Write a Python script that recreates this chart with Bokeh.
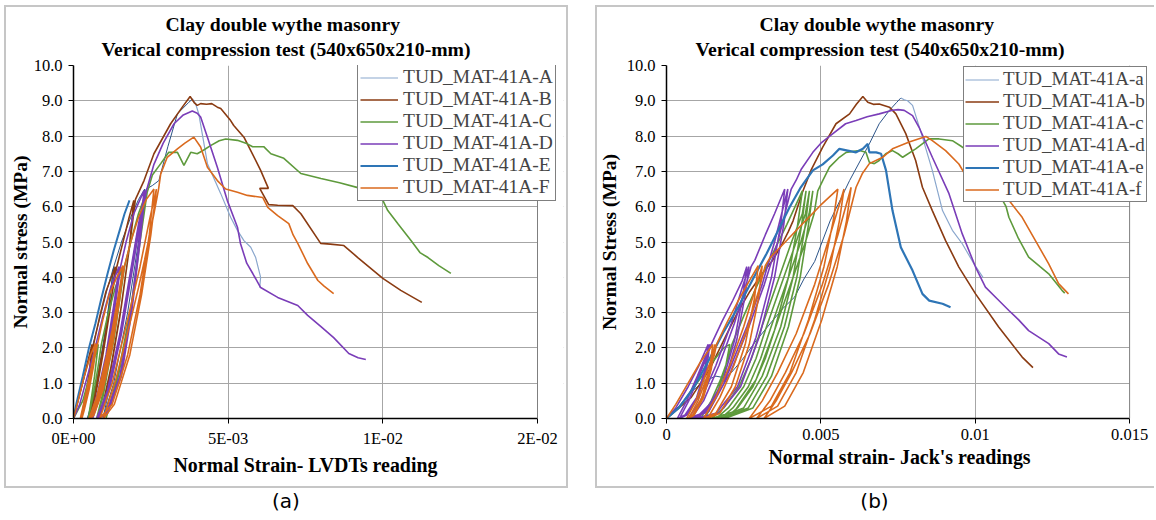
from bokeh.plotting import figure
from bokeh.models import (Range1d, FixedTicker, Legend, LegendItem, Title, BoxAnnotation,
                          NumeralTickFormatter, Span, Div)
from bokeh.layouts import row, column
from bokeh.embed import file_html
from bokeh.resources import INLINE

# ---------------- data (strain in 1e-3, stress in MPa) ----------------
# Panel (a): LVDT readings
a_A_x = [0, 0.3, 0.6, 0.9, 1.1, 1.3, 1.15, 0.9, 0.6, 0.45, 0.75, 1.05, 1.3, 1.55, 1.85, 2.1, 2.3, 2.1, 1.75,
         1.3, 0.95, 1.35, 1.75, 2.05, 2.35, 2.55, 2.76, 3.05, 3.36, 3.73, 3.85]
a_A_y = [0, 1.0, 2.0, 3.0, 3.7, 4.3, 3.2, 1.7, 0.4, 0, 1.0, 2.6, 4.3, 5.0, 5.7, 6.2, 6.5, 5.0, 3.0,
         1.0, 0, 1.6, 3.6, 5.2, 6.5, 6.6, 6.74, 7.7, 8.63, 8.96, 9.05]
a_A_post_x = [3.85, 3.95, 4.05, 4.33, 4.76, 5.08, 5.3, 5.51, 5.73, 5.89, 6.05, 6.02]
a_A_post_y = [9.05, 8.91, 8.63, 7.22, 6.37, 5.7, 5.33, 5.04, 4.85, 4.56, 4.0, 3.71]

a_B_x = [0, 0.2, 0.4, 0.6, 0.5, 0.35, 0.25, 0.4, 0.55, 0.65, 0.85, 1.05, 1.35, 1.2, 0.95, 0.7, 0.5, 0.75,
         1.0, 1.2, 1.4, 1.6, 1.8, 1.95, 1.8, 1.5, 1.15, 0.85, 1.2, 1.55, 1.8, 2.0, 2.28, 2.6, 3.14, 3.5,
         3.77, 3.9, 4.0, 4.11, 4.3, 4.47, 4.65, 4.76, 5.08, 5.18, 5.51, 5.73, 6.05, 6.3, 6.02, 6.31, 6.6,
         7.09, 7.35, 7.99, 8.3, 8.74, 9.19, 10.0, 10.58, 11.26]
a_B_y = [0, 0.7, 1.4, 2.1, 1.2, 0.4, 0, 0.7, 1.5, 2.1, 2.9, 3.6, 4.3, 3.2, 1.8, 0.6, 0, 1.0,
         2.2, 3.3, 4.3, 5.0, 5.7, 6.18, 4.8, 2.9, 1.1, 0, 1.4, 3.2, 4.8, 6.2, 6.74, 7.5, 8.35, 8.8,
         9.12, 8.95, 8.87, 8.92, 8.9, 8.92, 8.82, 8.78, 8.44, 8.3, 7.97, 7.59, 7.03, 6.52, 6.52, 6.06, 6.04,
         6.03, 5.8, 4.96, 4.94, 4.9, 4.56, 3.97, 3.63, 3.29]

a_C_x = [0, 0.3, 0.55, 0.8, 0.68, 0.55, 0.48, 0.65, 0.8, 0.9, 1.1, 1.35, 1.6, 1.45, 1.2, 0.95, 0.75, 1.0,
         1.3, 1.5, 1.65, 1.85, 2.1, 2.35, 2.15, 1.85, 1.45, 1.05, 1.45, 1.85, 2.15, 2.38, 2.55, 2.82, 3.08,
         3.36, 3.57, 3.79, 4.0, 4.2, 4.43, 4.71, 4.92, 5.3, 5.62, 5.79, 6.15, 6.38, 6.8, 7.35, 8.0, 8.6,
         9.19, 9.7, 10.0, 10.16, 10.5, 10.91, 11.2, 11.46, 11.81, 12.2]
a_C_y = [0, 0.5, 1.3, 2.1, 1.2, 0.4, 0, 0.7, 1.5, 2.1, 2.9, 3.7, 4.3, 3.2, 1.8, 0.6, 0, 0.9,
         2.2, 3.4, 4.3, 5.0, 5.8, 6.4, 5.0, 3.0, 1.2, 0, 1.3, 3.1, 5.0, 6.4, 6.9, 7.22, 7.54,
         7.54, 7.17, 7.54, 7.5, 7.6, 7.73, 7.87, 7.92, 7.88, 7.78, 7.7, 7.7, 7.5, 7.37, 6.94, 6.8, 6.68,
         6.54, 6.35, 6.18, 5.89, 5.5, 5.04, 4.7, 4.56, 4.33, 4.11]

a_D_x = [0, 0.2, 0.45, 0.7, 0.95, 1.2, 1.47, 1.35, 1.1, 0.8, 0.55, 0.8, 1.05, 1.3, 1.48, 1.36, 1.12, 0.85,
         0.62, 0.87, 1.12, 1.35, 1.52, 1.7, 1.95, 2.28, 2.12, 1.85, 1.5, 1.05, 0.75, 1.1, 1.5, 1.85, 2.1,
         2.32, 2.15, 1.88, 1.55, 1.1, 0.8, 1.15, 1.55, 1.9, 2.15, 2.36, 2.6, 2.9, 3.25, 3.55, 3.84, 4.0,
         4.11, 4.33, 4.65, 4.97, 5.3, 5.4, 5.6, 5.8, 6.05, 6.6, 7.25, 7.57, 8.0, 8.41, 8.9, 9.2, 9.45]
a_D_y = [0, 0.4, 1.2, 2.0, 2.9, 3.7, 4.3, 3.3, 1.8, 0.6, 0, 0.8, 1.8, 3.2, 4.3, 3.3, 1.8, 0.6,
         0, 0.8, 1.8, 3.2, 4.3, 5.0, 5.8, 6.46, 5.0, 3.0, 1.2, 0.15, 0, 0.8, 2.4, 4.2, 5.5,
         6.46, 5.0, 3.0, 1.2, 0.15, 0, 0.8, 2.4, 4.2, 5.5, 6.46, 7.2, 7.8, 8.35, 8.6, 8.71, 8.65,
         8.54, 7.97, 7.12, 6.18, 5.42, 4.95, 4.4, 4.1, 3.71, 3.43, 3.2, 2.92, 2.6, 2.29, 1.84, 1.72, 1.67]

a_E_x = [0, 0.1, 0.3, 0.5, 0.71, 0.9, 1.1, 1.3, 1.5, 1.65, 1.81]
a_E_y = [0, 0.45, 1.2, 2.0, 2.7, 3.4, 4.1, 4.76, 5.35, 5.8, 6.18]

a_F_x = [0, 0.15, 0.35, 0.55, 0.71, 0.62, 0.48, 0.32, 0.22, 0.35, 0.52, 0.66, 0.74, 0.65, 0.5, 0.35, 0.27,
         0.4, 0.56, 0.7, 0.78, 0.95, 1.15, 1.4, 1.6, 1.45, 1.2, 0.9, 0.6, 0.5, 0.75, 1.0, 1.25, 1.45, 1.62,
         1.48, 1.25, 0.95, 0.66, 0.56, 0.8, 1.05, 1.3, 1.5, 1.65, 1.85, 2.1, 2.35, 2.6, 2.45, 2.15, 1.75,
         1.25, 0.85, 1.25, 1.75, 2.15, 2.45, 2.68, 2.5, 2.2, 1.82, 1.32, 0.97, 1.15, 1.36, 1.6, 1.9, 2.1,
         2.3, 2.6, 2.75, 2.82, 3.03, 3.36, 3.6, 3.89, 4.11, 4.33, 4.65, 4.92, 5.3, 5.62, 6.12, 6.28, 6.6,
         6.96, 7.1, 7.25, 7.57, 7.9, 8.1, 8.41]
a_F_y = [0, 0.5, 1.2, 1.8, 2.12, 1.5, 0.8, 0.25, 0, 0.5, 1.2, 1.8, 2.12, 1.5, 0.8, 0.25, 0,
         0.5, 1.2, 1.8, 2.12, 2.8, 3.5, 4.0, 4.33, 3.3, 2.0, 0.8, 0.1, 0, 0.6, 1.5, 2.5, 3.5, 4.33,
         3.3, 2.0, 0.8, 0.1, 0, 0.6, 1.5, 2.5, 3.5, 4.33, 5.0, 5.7, 6.2, 6.5, 5.2, 3.5, 1.8,
         0.4, 0, 1.0, 2.8, 4.3, 5.6, 6.5, 5.2, 3.5, 1.8, 0.4, 0, 0.5, 1.08, 1.9, 2.97, 3.7,
         4.5, 5.8, 6.5, 6.93, 7.4, 7.64, 7.8, 7.97, 7.69, 7.12, 6.74, 6.5, 6.41, 6.32, 6.26, 5.98, 5.75,
         5.52, 5.2, 4.96, 4.39, 3.91, 3.75, 3.54]

# Panel (b): jack readings
b_a_x = [0, 0.4, 0.8, 1.2, 1.6, 1.9, 2.1, 2.43, 2.9, 3.35, 3.75, 4.15, 4.45, 4.8, 5.3, 5.93, 6.57, 6.89,
         7.22, 7.45, 7.59]
b_a_y = [0, 0.35, 0.75, 1.05, 1.2, 1.15, 1.3, 1.64, 2.2, 2.68, 3.1, 3.44, 3.95, 4.45, 5.6, 6.74, 7.78, 8.35,
         8.73, 8.95, 9.08]
b_a_post_x = [7.59, 7.7, 7.81, 7.97, 8.29, 8.61, 8.94, 9.26, 9.58, 9.96, 10.1, 10.25]
b_a_post_y = [9.08, 9.03, 9.0, 8.87, 7.97, 7.03, 5.89, 5.33, 4.95, 4.38, 4.2, 4.0]

b_b_x = [0, 0.8, 1.4, 1.9, 2.3, 2.7, 3.1, 3.45, 3.75, 3.95, 4.1, 4.4,
         4.69, 5.06, 5.49, 5.93, 6.15, 6.36, 6.52, 6.7, 6.89, 7.22, 7.43, 7.75, 8.07, 8.29, 8.61, 9.04,
         9.47, 10.01, 10.76, 11.52, 11.87]
b_b_y = [0, 0.6, 1.4, 2.3, 3.0, 3.6, 4.1, 4.5, 4.95, 5.3, 5.6, 6.4,
         7.05, 7.69, 8.35, 8.63, 8.9, 9.12, 8.96, 8.9, 8.91, 8.82, 8.63, 8.07, 7.31, 6.55, 5.89, 5.04,
         4.29, 3.53, 2.59, 1.74, 1.44]

b_c_x = [0, 0.4, 0.9, 1.4, 1.85, 2.05, 1.9, 1.6, 1.3, 1.1, 1.45, 1.75, 2.0, 2.12, 2.5, 2.95, 3.4, 3.9, 4.4,
         4.25, 3.95, 3.5, 2.9, 2.2, 1.45, 1.85, 2.35, 2.75, 3.05, 3.25, 3.65, 4.05, 4.4, 4.52,
         4.38, 4.1, 3.7, 3.1, 2.5, 1.6, 2.0, 2.5, 2.9, 3.2, 3.4, 3.8, 4.2, 4.5, 4.63,
         4.5, 4.22, 3.82, 3.25, 2.65, 1.75, 2.15, 2.65, 3.05, 3.35, 3.55, 3.95, 4.35, 4.62, 4.74,
         4.6, 4.33, 3.95, 3.4, 2.8, 1.89, 2.3, 2.8, 3.2, 3.5, 3.7, 4.1, 4.5, 4.78, 4.9,
         5.06, 5.28, 5.6, 5.82, 6.25, 6.46, 6.57, 6.73, 6.89, 7.1, 7.32, 7.5, 7.65, 8.07, 8.5, 8.83, 9.26,
         9.58, 9.9, 10.2, 10.42, 10.65, 11.0, 11.09, 11.4, 11.73, 12.1, 12.38, 12.81, 12.9]
b_c_y = [0, 0.3, 0.9, 1.5, 2.0, 2.1, 1.4, 0.6, 0.1, 0, 0.5, 1.1, 1.7, 2.1, 2.9, 3.8, 4.6, 5.5, 6.45,
         5.5, 4.0, 2.5, 1.1, 0.2, 0, 0.3, 0.9, 1.7, 2.5, 3.0, 4.0, 5.0, 5.8, 6.45,
         5.5, 4.0, 2.6, 1.2, 0.3, 0, 0.3, 0.9, 1.7, 2.5, 3.0, 4.0, 5.0, 5.8, 6.45,
         5.5, 4.0, 2.6, 1.2, 0.3, 0, 0.3, 0.9, 1.7, 2.5, 3.0, 4.0, 5.0, 5.8, 6.45,
         5.5, 4.0, 2.6, 1.2, 0.3, 0, 0.3, 0.9, 1.7, 2.5, 3.0, 4.0, 5.0, 5.8, 6.45,
         6.74, 7.12, 7.4, 7.54, 7.59, 7.54, 7.26, 7.22, 7.31, 7.5, 7.59, 7.5, 7.4, 7.64, 7.92, 7.92, 7.87,
         7.69, 7.5, 7.2, 7.03, 6.55, 6.0, 5.7, 5.1, 4.57, 4.3, 4.1, 3.63, 3.55]

b_d_x = [0, 0.3, 0.7, 1.05, 1.35, 1.25, 0.98, 0.6, 0.35, 0.65, 1.0, 1.28, 1.4, 1.3, 1.03, 0.66, 0.42, 0.72,
         1.05, 1.33, 1.45, 1.8, 2.15, 2.45, 2.6, 2.48, 2.2, 1.8, 1.3, 0.7, 1.1, 1.6, 2.1, 2.45, 2.67,
         2.55, 2.27, 1.87, 1.37, 0.8, 1.2, 1.7, 2.2, 2.55, 2.74, 2.86, 3.2, 3.5, 3.83, 3.7, 3.4, 2.9,
         2.3, 1.6, 0.93, 1.4, 2.0, 2.6, 3.1, 3.5, 3.93, 3.8, 3.5, 3.0, 2.4, 1.7, 1.0, 1.47, 2.07, 2.67,
         3.17, 3.6, 4.04, 4.2, 4.37, 4.74, 5.0, 5.39, 5.8, 6.14, 6.5, 6.89, 7.32, 7.5, 7.7, 7.97, 8.18,
         8.61, 9.15, 9.58, 10.01, 10.33, 10.7, 11.09, 11.4, 11.73, 12.38, 12.7, 12.97]
b_d_y = [0, 0.3, 0.9, 1.5, 2.1, 1.4, 0.6, 0.1, 0, 0.5, 1.2, 1.8, 2.1, 1.4, 0.6, 0.1, 0, 0.5,
         1.2, 1.8, 2.1, 2.75, 3.35, 3.9, 4.3, 3.5, 2.2, 1.0, 0.2, 0, 0.5, 1.5, 2.7, 3.7, 4.3,
         3.5, 2.2, 1.0, 0.2, 0, 0.5, 1.5, 2.7, 3.7, 4.3, 4.48, 5.2, 5.8, 6.5, 5.5, 4.0, 2.3,
         0.9, 0.15, 0, 0.4, 1.3, 2.6, 3.8, 5.0, 6.5, 5.5, 4.0, 2.3, 0.9, 0.15, 0, 0.4, 1.3, 2.6,
         3.8, 5.0, 6.5, 6.75, 7.07, 7.54, 7.8, 8.07, 8.35, 8.44, 8.55, 8.63, 8.73, 8.75, 8.73, 8.58, 8.25,
         7.4, 6.37, 5.23, 4.29, 3.72, 3.4, 3.06, 2.8, 2.49, 2.12, 1.83, 1.74]

b_e_x = [0, 0.4, 0.9, 1.4, 1.85, 2.32, 2.8, 3.24, 3.6, 3.99, 4.35, 4.74, 5.06, 5.39, 5.6, 5.87, 6.14, 6.36,
         6.52, 6.57, 6.79, 6.95, 7.11, 7.32, 7.59, 7.97, 8.29, 8.51, 8.94, 9.2]
b_e_y = [0, 0.3, 0.9, 1.7, 2.45, 3.15, 3.95, 4.67, 5.3, 5.99, 6.55, 7.03, 7.2, 7.45, 7.64, 7.59, 7.54, 7.64,
         7.78, 7.54, 7.54, 7.5, 7.03, 5.89, 4.85, 4.19, 3.53, 3.34, 3.25, 3.15]

b_f_x = [0, 0.3, 0.7, 1.1, 1.5, 1.4, 1.15, 0.85, 0.65, 0.95, 1.25, 1.5, 1.57, 1.45, 1.2, 0.9, 0.72, 1.02,
         1.32, 1.55, 1.62, 1.95, 2.3, 2.65, 2.97, 2.85, 2.55, 2.1, 1.6, 1.2, 1.6, 2.05, 2.5, 2.85, 3.1,
         2.98, 2.68, 2.23, 1.73, 1.33, 1.73, 2.18, 2.63, 2.98, 3.2, 3.35, 3.9, 4.5, 5.0, 5.55, 5.4, 5.1,
         4.6, 4.0, 3.4, 2.68, 3.1, 3.6, 4.2, 4.8, 5.3, 5.75, 5.6, 5.3, 4.8, 4.2, 3.6, 2.92, 3.35, 3.85,
         4.45, 5.05, 5.55, 5.98, 5.83, 5.53, 5.03, 4.43, 3.83, 3.16, 3.55, 4.05, 4.65, 5.25, 5.75, 6.14,
         6.35, 6.57, 7.0, 7.32, 7.86, 8.4, 8.61, 9.04, 9.47, 9.85, 10.23, 10.65, 11.09, 11.52, 11.95,
         12.38, 12.7, 13.02]
b_f_y = [0, 0.4, 1.0, 1.6, 2.1, 1.4, 0.6, 0.1, 0, 0.5, 1.2, 1.8, 2.1, 1.4, 0.6, 0.1, 0, 0.5,
         1.2, 1.8, 2.1, 2.7, 3.3, 3.85, 4.33, 3.4, 2.1, 0.9, 0.15, 0, 0.6, 1.5, 2.6, 3.6, 4.33,
         3.4, 2.1, 0.9, 0.15, 0, 0.6, 1.5, 2.6, 3.6, 4.33, 4.55, 5.05, 5.6, 6.05, 6.5, 5.6, 4.3,
         2.8, 1.3, 0.35, 0, 0.5, 1.3, 2.4, 3.8, 5.2, 6.5, 5.6, 4.3, 2.8, 1.3, 0.35, 0, 0.5, 1.3,
         2.4, 3.8, 5.2, 6.55, 5.6, 4.3, 2.8, 1.3, 0.35, 0, 0.5, 1.3, 2.4, 3.8, 5.2, 6.55,
         6.95, 7.22, 7.4, 7.64, 7.83, 7.99, 7.87, 7.59, 7.21, 6.65, 6.46, 6.37, 6.18, 5.7, 5.04,
         4.38, 3.82, 3.53]

labels_a = ["TUD_MAT-41A-A", "TUD_MAT-41A-B", "TUD_MAT-41A-C", "TUD_MAT-41A-D", "TUD_MAT-41A-E", "TUD_MAT-41A-F"]
labels_b = ["TUD_MAT-41A-a", "TUD_MAT-41A-b", "TUD_MAT-41A-c", "TUD_MAT-41A-d", "TUD_MAT-41A-e", "TUD_MAT-41A-f"]
y_ticks = [0, 1, 2, 3, 4, 5, 6, 7, 8, 9, 10]
x_ticks = [0, 0.005, 0.01, 0.015]
x_tick_labels_a = ["0E+00", "5E-03", "1E-02", "2E-02"]
x_tick_labels_b = ["0", "0.005", "0.01", "0.015"]
X_MAX = 0.015
Y_MAX = 10

title1 = "Clay double wythe masonry"
title2 = "Verical compression test (540x650x210-mm)"

# ---------------- styling ----------------
SERIF = "Liberation Serif"
COL_A_LIGHT = "#8AA7CD"
COL_A_DARK = "#2C5488"
COL_B = "#8A3B12"
COL_C = "#5E9A3C"
COL_D = "#7A3DB8"
COL_E = "#2E75B6"
COL_F = "#DA6A1E"
GRID = "#A6A6A6"


def ms(v):
    return [t * 1e-3 for t in v]


def make_panel(series, labels, xlabels, ylabel, xlabel, width, left, x_end, legend_loc,
               legend_cfg, t_offsets, xlab_offset, ylab_standoff, shadow, margin):
    p = figure(width=width, height=483, output_backend="svg", toolbar_location=None,
               x_range=Range1d(0, x_end), y_range=Range1d(0, Y_MAX), title=None,
               min_border_left=left, min_border_right=width - left - 490, min_border_top=60,
               min_border_bottom=70, background_fill_color="white", border_fill_alpha=0,
               outline_line_color=None, margin=margin,
               styles={"box-shadow": shadow})
    # axes
    p.xaxis.ticker = FixedTicker(ticks=x_ticks)
    p.xaxis.major_label_overrides = {t: s for t, s in zip(x_ticks, xlabels)}
    p.xaxis.bounds = (0, X_MAX)
    p.yaxis.bounds = (0, Y_MAX)
    p.yaxis.ticker = FixedTicker(ticks=y_ticks)
    p.yaxis.formatter = NumeralTickFormatter(format="0.0")
    for ax in (p.xaxis[0], p.yaxis[0]):
        ax.axis_line_color = "black"
        ax.axis_line_width = 1.5
        ax.major_tick_line_color = "black"
        ax.major_tick_out = 5
        ax.major_tick_in = 0
        ax.minor_tick_line_color = None
        ax.major_label_text_font = SERIF
        ax.major_label_text_font_size = "16.5px"
        ax.major_label_text_color = "black"
        ax.axis_label_text_font = SERIF
        ax.axis_label_text_font_size = "19.5px"
        ax.axis_label_text_font_style = "bold"
        ax.axis_label_text_color = "black"
    p.xaxis.major_label_standoff = 5
    p.yaxis.major_label_standoff = 6
    p.yaxis.axis_label_standoff = ylab_standoff
    p.yaxis.axis_label = ylabel
    p.xgrid.ticker = FixedTicker(ticks=x_ticks[1:-1])
    p.ygrid.ticker = FixedTicker(ticks=y_ticks[1:])
    for g in (p.xgrid[0], p.ygrid[0]):
        g.grid_line_color = GRID
        g.grid_line_width = 1

    # blank strip right of the plot area (legend may overhang there)
    p.add_layout(BoxAnnotation(left=X_MAX, fill_color="white", fill_alpha=1, line_color=None,
                               level="underlay"))
    p.add_layout(Span(location=X_MAX, dimension="height", line_color="#7F7F7F", line_width=1))

    # titles (added nearest-first), left aligned with offsets
    p.add_layout(Title(text=title2, align="left", offset=t_offsets[1], text_font=SERIF,
                       text_font_size="19.7px", text_font_style="bold", text_color="black",
                       standoff=12), "above")
    p.add_layout(Title(text=title1, align="left", offset=t_offsets[0], text_font=SERIF,
                       text_font_size="19.7px", text_font_style="bold", text_color="black",
                       standoff=-10), "above")
    # x-axis title, placed under the tick labels and aligned to the plot area
    p.add_layout(Title(text=xlabel, align="left", offset=xlab_offset, text_font=SERIF,
                       text_font_size="19.9px", text_font_style="bold", text_color="black",
                       standoff=2), "below")

    items = []
    for i, s in enumerate(series):
        rs = []
        for (xs, ys, col, w) in s:
            rs.append(p.line(ms(xs), ys, line_color=col, line_width=w))
        items.append(LegendItem(label=labels[i], renderers=[rs[-1]]))
    leg = Legend(items=items, location=legend_loc, **legend_cfg)
    p.add_layout(leg)
    return p


series_a = [
    [(a_A_x, a_A_y, COL_A_DARK, 1), (a_A_post_x, a_A_post_y, COL_A_LIGHT, 1.2)],
    [(a_B_x, a_B_y, COL_B, 1.6)],
    [(a_C_x, a_C_y, COL_C, 1.6)],
    [(a_D_x, a_D_y, COL_D, 1.6)],
    [(a_E_x, a_E_y, COL_E, 2)],
    [(a_F_x, a_F_y, COL_F, 1.6)],
]
series_b = [
    [(b_a_x, b_a_y, COL_A_DARK, 1), (b_a_post_x, b_a_post_y, COL_A_LIGHT, 1.2)],
    [(b_b_x, b_b_y, COL_B, 1.6)],
    [(b_c_x, b_c_y, COL_C, 1.6)],
    [(b_d_x, b_d_y, COL_D, 1.6)],
    [(b_e_x, b_e_y, COL_E, 2.2)],
    [(b_f_x, b_f_y, COL_F, 1.6)],
]

leg_a = dict(label_text_font=SERIF, label_text_font_size="19.5px", border_line_color="black",
             border_line_width=1, background_fill_color="white", background_fill_alpha=1,
             padding=2, spacing=0, margin=0, glyph_width=38, glyph_height=21, label_height=21,
             label_standoff=5)
leg_b = dict(label_text_font=SERIF, label_text_font_size="19px", border_line_color="black",
             border_line_width=1, background_fill_color="white", background_fill_alpha=1,
             padding=1, spacing=0, margin=0, glyph_width=34, glyph_height=19, label_height=19,
             label_standoff=4)

WA, WB = 564, 559
pa = make_panel(series_a, labels_a, x_tick_labels_a, "Normal stress (MPa)",
                "Normal Strain- LVDTs reading", WA, 69, X_MAX * 490 / 464, (284, 217), leg_a,
                (92, 28), 100, 0, "inset 0 0 0 2px #C6C6C6", (5, 0, 0, 4))
pb = make_panel(series_b, labels_b, x_tick_labels_b, "Normal Stress (MPa)",
                "Normal strain- Jack's readings", WB, 69, X_MAX * 490 / 465, (297, 216), leg_b,
                (93, 29), 102, 4, "inset 2px 2px 0 0 #C6C6C6, inset 0 -2px 0 0 #C6C6C6", (5, 0, 0, 27))

div_style = {"text-align": "center", "font-family": "DejaVu Sans", "font-size": "20px",
             "line-height": "26px", "color": "black"}
da = Div(text="(a)", width=WA, height=26, margin=(0, 0, 0, 4), styles=div_style)
db = Div(text="(b)", width=WB, height=26, margin=(0, 0, 0, 27), styles=div_style)

layout = column(row(pa, pb, spacing=0), row(da, db, spacing=0), spacing=0)
open("out.html", "w").write(file_html(layout, INLINE))
